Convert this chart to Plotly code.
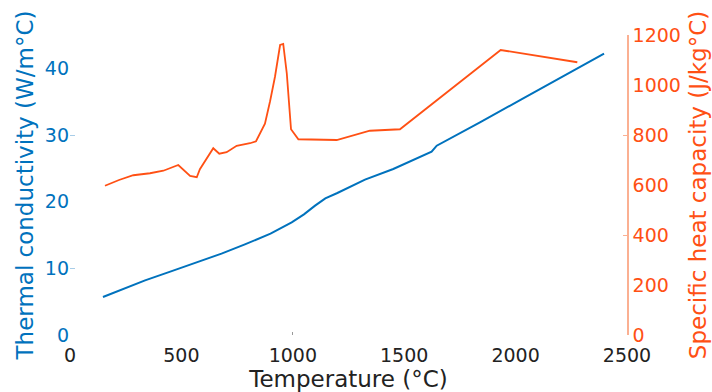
import plotly.graph_objects as go

# Thermal conductivity (W/m°C) vs temperature
temp_k = [148, 250, 337, 450, 561, 680, 785, 900, 995, 1050, 1100, 1146, 1200,
          1324, 1451, 1540, 1623, 1646, 1691, 1840, 2024, 2200, 2397]
cond_k = [5.7, 7.05, 8.2, 9.5, 10.8, 12.2, 13.6, 15.2, 16.9, 18.1, 19.4, 20.5, 21.3,
          23.3, 24.9, 26.2, 27.5, 28.4, 29.2, 31.9, 35.3, 38.6, 42.2]

# Specific heat capacity (J/kg°C) vs temperature
temp_c = [157, 220, 284, 359, 419, 486, 539, 569, 583, 643, 670, 703, 748, 808,
          835, 860, 875, 898, 920, 943, 957, 973, 992, 1025, 1197, 1346, 1481, 1933, 2277]
heat_c = [597, 620, 639, 647, 657, 680, 636, 631, 663, 747, 725, 731, 757, 767,
          775, 820, 845, 935, 1033, 1160, 1164, 1047, 823, 783, 780, 817, 823, 1140, 1091]

x_ticks = [0, 500, 1000, 1500, 2000, 2500]
k_ticks = [0, 10, 20, 30, 40]
c_ticks = [0, 200, 400, 600, 800, 1000, 1200]

BLUE = "#0072BD"
ORANGE = "#FF5014"
FONT = "DejaVu Sans"

fig = go.Figure()
fig.add_trace(go.Scatter(x=temp_k, y=cond_k, mode="lines",
                         line=dict(color=BLUE, width=2), showlegend=False))
fig.add_trace(go.Scatter(x=temp_c, y=heat_c, mode="lines", yaxis="y2",
                         line=dict(color=ORANGE, width=1.8), showlegend=False))

fig.update_layout(
    width=712, height=392,
    margin=dict(l=70, r=85, t=35, b=57),
    paper_bgcolor="white", plot_bgcolor="white",
    font=dict(family=FONT, size=19, color="#222222"),
    xaxis=dict(range=[0, 2500], tickvals=x_ticks, showgrid=False, zeroline=False,
               showline=False, ticks="", ticklabelstandoff=7, automargin=False,
               tickfont=dict(size=19, color="#222222"),
               title=dict(text="Temperature (°C)", font=dict(size=23, color="#222222"), standoff=0),
               minor=dict(tickmode="array", tickvals=[1000], ticks="inside",
                          ticklen=3, tickcolor="#999999", showgrid=False)),
    yaxis=dict(range=[0, 45], tickvals=k_ticks, showgrid=False, zeroline=False,
               showline=False, ticks="", automargin=False, tickfont=dict(size=19, color=BLUE),
               title=dict(text="Thermal conductivity (W/m°C)", font=dict(size=23, color=BLUE), standoff=4),
               minor=dict(tickmode="array", tickvals=[10, 30], ticks="inside",
                          ticklen=5, tickcolor="#A8CDE8", showgrid=False)),
    yaxis2=dict(range=[0, 1200], tickvals=c_ticks, overlaying="y", side="right",
                showgrid=False, zeroline=False, showline=True, linecolor="#FBB092",
                linewidth=1.5, ticks="", automargin=False, tickfont=dict(size=19, color=ORANGE),
                title=dict(text="Specific heat capacity (J/kg°C)", font=dict(size=23, color=ORANGE), standoff=10),
                minor=dict(tickmode="array", tickvals=[400, 800], ticks="inside",
                           ticklen=4, tickcolor="#FBB092", showgrid=False)),
)

fig.write_html("out.html")
